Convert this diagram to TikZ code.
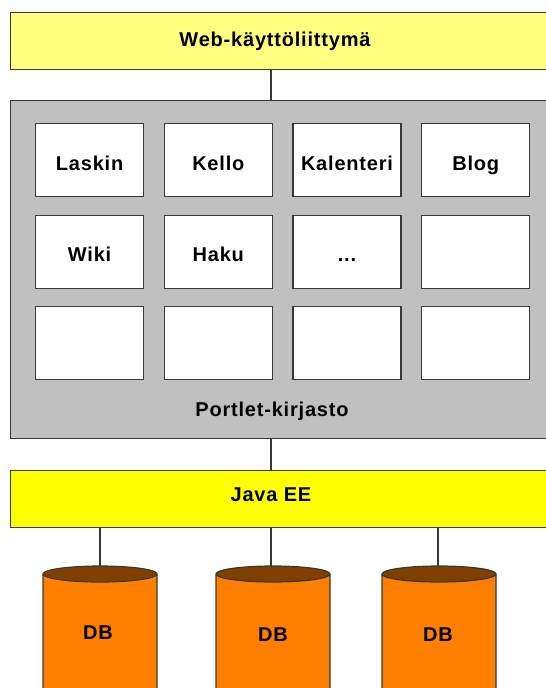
\documentclass[tikz,border=0pt]{standalone}
\usepackage{fontspec}
\setmainfont{Liberation Sans}[LetterSpace=4]
\definecolor{webyellow}{HTML}{FFFF80}
\definecolor{javayellow}{HTML}{FFFF00}
\definecolor{panelgray}{HTML}{C0C0C0}
\definecolor{dborange}{HTML}{FF8000}
\definecolor{dbbrown}{HTML}{804000}
\definecolor{edge}{HTML}{383838}
\tikzset{
	layer/.style={draw=edge, line width=1.2pt, minimum width=560pt, minimum height=57pt, anchor=north west, inner sep=0pt},
	portlet/.style={draw=edge, line width=1.2pt, fill=white, minimum width=108pt, minimum height=73pt, anchor=north west, inner sep=0pt, text height=20pt, text depth=0pt, font=\bfseries\fontsize{20}{23}\selectfont},
	lbl/.style={anchor=base, inner sep=0pt, font=\bfseries\fontsize{20}{23}\selectfont},
	wire/.style={draw=edge, line width=1.2pt},
}

\begin{document}
\begin{tikzpicture}[x=1pt, y=-1pt]
	\useasboundingbox (0,0) rectangle (546,688);
	\clip (0,0) rectangle (546,688);

	\node[layer, fill=webyellow] (webui) at (10,12) {};%top layer
	\node[lbl] (webtxt) at (275,46.5) {Web-käyttöliittymä};

	\node[layer, fill=panelgray, minimum height=338pt] (panel) at (10,100) {};%portlet library
	\node[lbl] (paneltxt) at (272,416.5) {Portlet-kirjasto};

	\node[layer, fill=javayellow] (java) at (10,470) {};%java layer
	\node[lbl] (javatxt) at (271,501.5) {Java EE};

	\coordinate (spine) at (271,0);
	\draw[wire] (webui.south -| spine) -- (panel.north -| spine);
	\draw[wire] (panel.south -| spine) -- (java.north -| spine);

	% 4 x 3 portlets
	\foreach \name [count=\i from 0] in {Laskin,Kello,Kalenteri,Blog,Wiki,Haku,{{...}},{},{},{},{},{}}{
		\pgfmathtruncatemacro\col{mod(\i,4)}
		\pgfmathtruncatemacro\row{\i/4}
		\node[portlet] (portlet-\i) at ({35+128.7*\col},{123+91.5*\row}) {\name};
	}

	% databases
	\foreach \cx/\lx/\tx/\ty/\n in {100/100/98/639/1, 273/271/273/641.5/2, 439/438/438/641.5/3}{
		\draw[draw=edge, line width=1.2pt, fill=dborange] (\cx-57,574) -- (\cx-57,688) arc[start angle=180, end angle=0, x radius=57, y radius=8] -- (\cx+57,574);%body
		\draw[draw=edge, line width=1.2pt, fill=dbbrown] (\cx,574) ellipse[x radius=57, y radius=8];%lid
		\coordinate (db\n) at (\lx,566);
		\node[lbl] (dbtxt\n) at (\tx,\ty) {DB};
		\draw[wire] (java.south -| db\n) -- (db\n);
	}
\end{tikzpicture}
\end{document}
